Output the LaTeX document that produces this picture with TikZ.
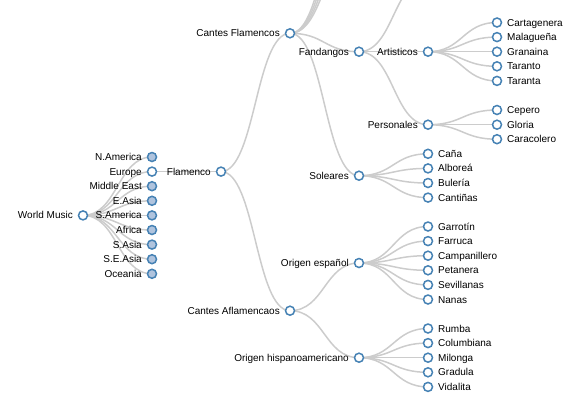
\documentclass[tikz,border=0pt]{standalone}
\usepackage{fontspec}
\setmainfont{Liberation Sans}
\usetikzlibrary{backgrounds,calc}

\definecolor{steel}{RGB}{70,130,180}
\definecolor{lightsteel}{RGB}{176,196,222}
\definecolor{linkgray}{RGB}{204,204,204}

% horizontal diagonal from parent to child
\newcommand{\branch}[2]{%
    \draw[link] (#1.center)
        .. controls ($(#1.center)+(34.5,0)$) and ($(#2.center)-(34.5,0)$)
        .. (#2.center);%
}

\begin{document}
\begin{tikzpicture}[
    x=1pt,
    y=-1pt,
    open/.style={
        circle,
        draw=steel,
        fill=white,
        line width=1.5pt,
        minimum size=9pt,
        inner sep=0pt
    },
    shut/.style={
        open,
        fill=lightsteel
    },
    link/.style={
        draw=linkgray,
        line width=1.5pt
    },
    every label/.style={
        inner sep=0pt,
        text height=7pt,
        text depth=0pt
    },
    label distance=4.75pt
]

\useasboundingbox (0,0) rectangle (576,402);

% ------------------------------------------------
% Root and regions
% ------------------------------------------------

\node[open, label=left:World Music] (world) at (83,215.4) {};

\node[shut, label=left:N.America] (namerica) at (152,157) {};
\node[open, label=left:Europe] (europe) at (152,171.6) {};
\node[shut, label=left:Middle East] (mideast) at (152,186.2) {};
\node[shut, label=left:E.Asia] (easia) at (152,200.8) {};
\node[shut, label=left:S.America] (samerica) at (152,215.4) {};
\node[shut, label=left:Africa] (africa) at (152,230) {};
\node[shut, label=left:S.Asia] (sasia) at (152,244.6) {};
\node[shut, label=left:S.E.Asia] (seasia) at (152,259.2) {};
\node[shut, label=left:Oceania] (oceania) at (152,273.8) {};

% ------------------------------------------------
% Flamenco
% ------------------------------------------------

\node[open, label=left:Flamenco] (flamenco) at (221,171.6) {};

\node[open, label=left:Cantes Flamencos] (flamencos) at (290,33.3) {};
\node[open, label=left:Cantes Aflamencaos] (aflamencaos) at (290,310.7) {};

% children above the top edge
\coordinate (hidden1) at (359,-109);
\coordinate (hidden2) at (359,-88);
\coordinate (hidden3) at (359,-70);
\coordinate (hidden4) at (359,-55);
\coordinate (hidden5) at (428,-21);

\node[open, label=left:Fandangos] (fandangos) at (359,51.7) {};
\node[open, label=left:Soleares] (soleares) at (359,175.7) {};
\node[open, label=left:Origen español] (espanol) at (359,263) {};
\node[open, label=left:Origen hispanoamericano] (hispano) at (359,357.7) {};

\node[open, label=left:Artisticos] (artisticos) at (428,51.7) {};
\node[open, label=left:Personales] (personales) at (428,124.7) {};

% ------------------------------------------------
% Leaves
% ------------------------------------------------

\node[open, label=right:Cartagenera] (cartagenera) at (497,22.5) {};
\node[open, label=right:Malagueña] (malaguena) at (497,37.1) {};
\node[open, label=right:Granaina] (granaina) at (497,51.7) {};
\node[open, label=right:Taranto] (taranto) at (497,66.3) {};
\node[open, label=right:Taranta] (taranta) at (497,80.9) {};

\node[open, label=right:Cepero] (cepero) at (497,110) {};
\node[open, label=right:Gloria] (gloria) at (497,124.7) {};
\node[open, label=right:Caracolero] (caracolero) at (497,139.2) {};

\node[open, label=right:Caña] (cana) at (428,153.8) {};
\node[open, label=right:Alboreá] (alborea) at (428,168.4) {};
\node[open, label=right:Bulería] (buleria) at (428,183) {};
\node[open, label=right:Cantiñas] (cantinas) at (428,197.6) {};

\node[open, label=right:Garrotín] (garrotin) at (428,226.5) {};
\node[open, label=right:Farruca] (farruca) at (428,241.1) {};
\node[open, label=right:Campanillero] (campanillero) at (428,255.7) {};
\node[open, label=right:Petanera] (petanera) at (428,270.3) {};
\node[open, label=right:Sevillanas] (sevillanas) at (428,284.9) {};
\node[open, label=right:Nanas] (nanas) at (428,299.5) {};

\node[open, label=right:Rumba] (rumba) at (428,328.5) {};
\node[open, label=right:Columbiana] (columbiana) at (428,343.1) {};
\node[open, label=right:Milonga] (milonga) at (428,357.7) {};
\node[open, label=right:Gradula] (gradula) at (428,372.3) {};
\node[open, label=right:Vidalita] (vidalita) at (428,386.9) {};

% ------------------------------------------------
% Links
% ------------------------------------------------

\begin{scope}[on background layer]
\clip (0,0) rectangle (576,402);

\branch{world}{namerica}
\branch{world}{europe}
\branch{world}{mideast}
\branch{world}{easia}
\branch{world}{samerica}
\branch{world}{africa}
\branch{world}{sasia}
\branch{world}{seasia}
\branch{world}{oceania}

\branch{europe}{flamenco}
\branch{flamenco}{flamencos}
\branch{flamenco}{aflamencaos}

\branch{flamencos}{hidden1}
\branch{flamencos}{hidden2}
\branch{flamencos}{hidden3}
\branch{flamencos}{hidden4}
\branch{flamencos}{fandangos}
\branch{flamencos}{soleares}

\branch{fandangos}{hidden5}
\branch{fandangos}{artisticos}
\branch{fandangos}{personales}

\branch{artisticos}{cartagenera}
\branch{artisticos}{malaguena}
\branch{artisticos}{granaina}
\branch{artisticos}{taranto}
\branch{artisticos}{taranta}

\branch{personales}{cepero}
\branch{personales}{gloria}
\branch{personales}{caracolero}

\branch{soleares}{cana}
\branch{soleares}{alborea}
\branch{soleares}{buleria}
\branch{soleares}{cantinas}

\branch{aflamencaos}{espanol}
\branch{aflamencaos}{hispano}

\branch{espanol}{garrotin}
\branch{espanol}{farruca}
\branch{espanol}{campanillero}
\branch{espanol}{petanera}
\branch{espanol}{sevillanas}
\branch{espanol}{nanas}

\branch{hispano}{rumba}
\branch{hispano}{columbiana}
\branch{hispano}{milonga}
\branch{hispano}{gradula}
\branch{hispano}{vidalita}
\end{scope}

\end{tikzpicture}
\end{document}
